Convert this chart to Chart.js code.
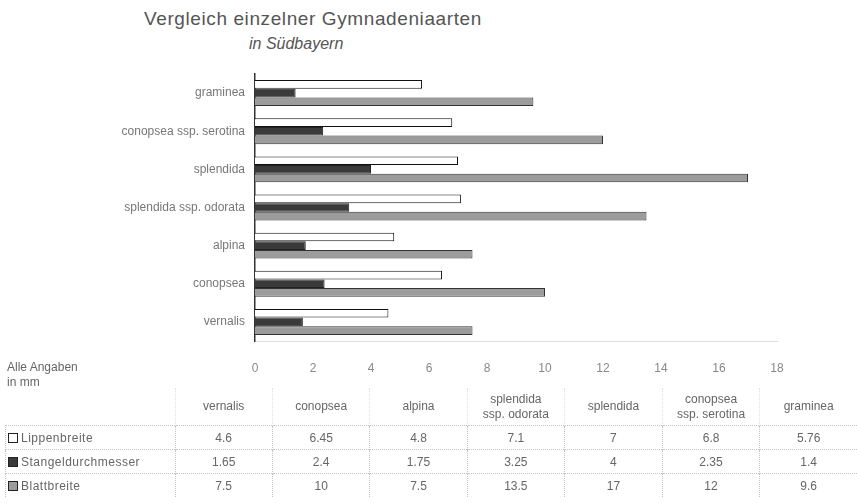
<!DOCTYPE html>
<html>
<head>
<meta charset="utf-8">
<script src="https://cdn.jsdelivr.net/npm/chart.js@4"></script>
<style>
  body { margin: 0; background: #fff; font-family: "Liberation Sans", Arial, sans-serif; }
  #wrap { position: relative; width: 857px; height: 503px; overflow: hidden; }
  #chart { position: absolute; left: 0; top: 0; }
  .title1 { position: absolute; left: 144px; top: 8px; font-size: 19px; letter-spacing: 0.6px; color: #555; white-space: nowrap; }
  .title2 { position: absolute; left: 249px; top: 35px; font-size: 16px; font-style: italic; color: #555; white-space: nowrap; }
  .note { position: absolute; left: 7px; top: 360px; font-size: 12px; line-height: 15px; color: #666; }
  table { position: absolute; left: 5px; top: 388px; border-collapse: collapse; font-size: 12px; color: #666; }
  td, th { font-weight: normal; text-align: center; padding: 0; }
  th { height: 37px; line-height: 15px; width: 98px; }
  td { height: 23px; }
  td.lab { text-align: left; width: 168px; padding-left: 2px; letter-spacing: 0.5px; }
  tbody tr td { border-top: 1px dotted #c4c4c4; }
  tbody tr td + td { border-left: 1px dotted #c4c4c4; }
  tbody tr td.lab { border-left: 1px dotted #c4c4c4; }
  th + th { border-left: 1px dotted #e0e0e0; }
  .sw { display: inline-block; width: 8px; height: 8px; border: 1px solid #222; margin-right: 3px; vertical-align: -1px; }
</style>
</head>
<body>
<div id="wrap">
  <div class="title1">Vergleich einzelner Gymnadeniaarten</div>
  <div class="title2">in Südbayern</div>
  <canvas id="chart" width="857" height="385"></canvas>
  <div class="note">Alle Angaben<br>in mm</div>
  <table id="tbl"></table>
</div>
<script>
// Arten (in table order, left to right)
const species = ['vernalis', 'conopsea', 'alpina', 'splendida ssp. odorata', 'splendida', 'conopsea ssp. serotina', 'graminea'];

// Werte in mm
const lippenbreite = [4.6, 6.45, 4.8, 7.1, 7, 6.8, 5.76];
const stangeldurchmesser = [1.65, 2.4, 1.75, 3.25, 4, 2.35, 1.4];
const blattbreite = [7.5, 10, 7.5, 13.5, 17, 12, 9.6];

// x axis
const xMin = 0;
const xMax = 18;
const xStep = 2;

const series = [
  { label: 'Lippenbreite', data: lippenbreite, fill: '#ffffff', border: '#111' },
  { label: 'Stangeldurchmesser', data: stangeldurchmesser, fill: '#3a3a3a', border: '#222' },
  { label: 'Blattbreite', data: blattbreite, fill: '#9c9c9c', border: '#333' },
];

// Chart shows graminea on top, vernalis at the bottom
const rev = (arr) => arr.slice().reverse();

new Chart(document.getElementById('chart'), {
  type: 'bar',
  data: {
    labels: rev(species),
    datasets: series.map((s) => ({
      label: s.label,
      data: rev(s.data),
      backgroundColor: s.fill,
      borderColor: s.border,
      borderWidth: 1,
      barPercentage: 1,
      categoryPercentage: 0.68,
    })),
  },
  options: {
    indexAxis: 'y',
    responsive: false,
    animation: false,
    layout: { padding: { top: 74, right: 80, left: 0, bottom: 0 } },
    plugins: { legend: { display: false }, tooltip: { enabled: false } },
    scales: {
      x: {
        min: xMin,
        max: xMax,
        ticks: { stepSize: xStep, color: '#888', padding: 20, font: { size: 12, family: 'Liberation Sans' } },
        grid: { display: false, drawTicks: false },
        border: { display: true, color: '#ddd', dash: [2, 5] },
        afterFit: (scale) => { scale.height = 44; },
      },
      y: {
        ticks: { color: '#777', padding: 10, font: { size: 12, family: 'Liberation Sans' } },
        grid: { display: false, drawTicks: false },
        border: { display: true, color: '#333', width: 1.5 },
        afterFit: (scale) => { scale.width = 255; },
      },
    },
  },
});

// Data table below the chart
const tbl = document.getElementById('tbl');
let html = '<thead><tr><th style="width:170px"></th>';
species.forEach((sp) => {
  html += '<th>' + sp.replace(' ssp.', '<br>ssp.') + '</th>';
});
html += '</tr></thead><tbody>';
series.forEach((s) => {
  html += '<tr><td class="lab"><span class="sw" style="background:' + s.fill + '"></span>' + s.label + '</td>';
  s.data.forEach((v) => { html += '<td>' + v + '</td>'; });
  html += '</tr>';
});
html += '</tbody>';
tbl.innerHTML = html;
</script>
</body>
</html>
